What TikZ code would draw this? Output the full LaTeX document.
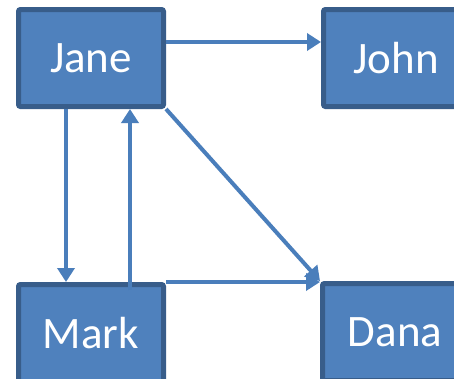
\documentclass[tikz,border=0pt]{standalone}
\usepackage{fontspec}
\setmainfont{Carlito}
\usetikzlibrary{arrows.meta}
\definecolor{boxfill}{RGB}{79,129,189}
\definecolor{boxedge}{RGB}{56,93,138}
\definecolor{linkcol}{RGB}{74,126,187}
\tikzset{
  person/.style={draw=boxedge, fill=boxfill, line width=5pt, rounded corners=2pt,
    minimum width=145pt, minimum height=97pt, inner sep=0pt,
    text=white, font=\fontsize{45}{45}\selectfont},
  link/.style={draw=linkcol, line width=4pt, -{Triangle[length=14pt,width=17pt]}}
}
\begin{document}
\begin{tikzpicture}[x=1pt,y=-1pt]
  \useasboundingbox (0,0) rectangle (454,378);
  \fill[white] (0,0) rectangle (454,378);
  \clip (0,0) rectangle (454,378);
  \node[person] (Jane) at (91,58) {Jane};
  \node[person] (John) at (396,58) {John};
  \node[person] (Mark) at (91,333) {Mark};
  \node[person] (Dana) at (395,332) {Dana};
  \draw[link] ([yshift=16pt]Jane.east) -- ([yshift=16pt]John.west);
  \draw[link] ([xshift=-25pt]Jane.south) -- ([xshift=-25pt]Mark.north);
  \draw[link] ([xshift=39pt,yshift=-8pt]Mark.north) -- ([xshift=39pt]Jane.south);
  \draw[link] (Jane.south east) -- (Dana.north west);
  \draw[link] (Mark.north east) -- (Dana.north west |- Mark.north east);
\end{tikzpicture}
\end{document}
